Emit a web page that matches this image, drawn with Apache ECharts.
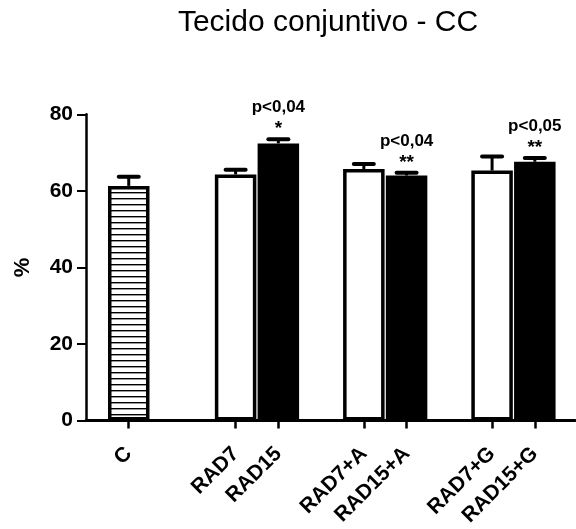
<!DOCTYPE html>
<html><head><meta charset="utf-8">
<script src="https://cdn.jsdelivr.net/npm/echarts@6/dist/echarts.min.js"></script>
<style>html,body{margin:0;padding:0;background:#fff}#c{width:576px;height:529px}</style>
</head><body><div id="c"></div>
<script>
// ---- data ----
const categories = ['C', 'RAD7', 'RAD15', 'RAD7+A', 'RAD15+A', 'RAD7+G', 'RAD15+G'];
const means      = [61.3, 64.3, 72.4, 65.7, 64.0, 65.3, 67.6];
const sems       = [2.4, 1.2, 1.1, 1.3, 0.7, 3.7, 1.0];
const pValues    = ['', '', 'p<0,04', '', 'p<0,04', '', 'p<0,05'];
const stars      = ['', '', '*', '', '**', '', '**'];
const yTicks     = [0, 20, 40, 60, 80];

// ---- layout (slot units: one bar = 2 slots) ----
const groups = [[0], [1, 2], [3, 4], [5, 6]];
const groupGaps = [3, 2, 2];
const pos = [];
(function () {
  let x = 0;
  groups.forEach((g, gi) => {
    g.forEach(i => { pos[i] = x; x += 2; });
    x += (groupGaps[gi] || 0);
  });
})();

const FONT = "'Liberation Sans', Arial, Helvetica, sans-serif";

function hatch() {
  const cv = document.createElement('canvas');
  cv.width = 8; cv.height = 6;
  const ctx = cv.getContext('2d');
  ctx.fillStyle = '#fff'; ctx.fillRect(0, 0, 8, 6);
  ctx.fillStyle = '#000'; ctx.fillRect(0, 0, 8, 1.4);
  return { image: cv, repeat: 'repeat' };
}
function fillFor(name) {
  if (name === 'C') return hatch();
  if (name.indexOf('RAD7') === 0) return '#fff';
  return '#000';
}

const chart = echarts.init(document.getElementById('c'), null, { renderer: 'canvas' });
chart.setOption({
  animation: false,
  backgroundColor: '#fff',
  title: {
    text: 'Tecido conjuntivo - CC',
    left: 328, top: 8, padding: 0, textAlign: 'center',
    textStyle: { fontFamily: FONT, fontSize: 30, fontWeight: 'normal', color: '#000' }
  },
  grid: { left: 86, right: 1, top: 114.3, bottom: 107.3, containLabel: false },
  xAxis: {
    type: 'value', min: -2, max: 20.88,
    splitLine: { show: false },
    axisLine: { show: true, onZero: false, lineStyle: { color: '#000', width: 3 } },
    axisTick: { show: true, customValues: pos, length: 8, lineStyle: { color: '#000', width: 2.5 } },
    axisLabel: {
      customValues: pos, rotate: 45, margin: 30,
      formatter: v => categories[pos.indexOf(Math.round(v))] || '',
      fontFamily: FONT, fontSize: 21, fontWeight: 'bold', color: '#000'
    }
  },
  yAxis: {
    type: 'value', min: yTicks[0], max: yTicks[yTicks.length - 1], interval: 20,
    name: '%', nameLocation: 'middle', nameRotate: 90, nameGap: 52,
    nameTextStyle: { fontFamily: FONT, fontSize: 22, fontWeight: 'bold', color: '#000' },
    splitLine: { show: false },
    axisLine: { show: true, onZero: false, lineStyle: { color: '#000', width: 2.5 } },
    axisTick: { show: true, length: 9, lineStyle: { color: '#000', width: 2 } },
    axisLabel: { margin: 13, fontFamily: FONT, fontSize: 21, fontWeight: 'bold', color: '#000' }
  },
  series: [
    {
      type: 'bar',
      barWidth: 41.5,
      data: categories.map((n, i) => ({
        value: [pos[i], means[i]],
        itemStyle: { color: fillFor(n), borderColor: '#000', borderWidth: 3.5 }
      })),
      z: 2
    },
    {
      type: 'custom',
      z: 3,
      clip: false,
      data: categories.map((n, i) => [pos[i], means[i], sems[i], i]),
      renderItem: function (params, api) {
        const i = api.value(3);
        const base = api.coord([api.value(0), api.value(1)]);
        const top = api.coord([api.value(0), api.value(1) + api.value(2)]);
        const children = [
          { type: 'line', shape: { x1: top[0], y1: base[1], x2: top[0], y2: top[1] },
            style: { stroke: '#000', lineWidth: 3 } },
          { type: 'line', shape: { x1: top[0] - 10, y1: top[1], x2: top[0] + 10, y2: top[1] },
            style: { stroke: '#000', lineWidth: 4, lineCap: 'round' } }
        ];
        if (pValues[i]) {
          children.push({ type: 'text', x: top[0], y: top[1] - 32,
            style: { text: pValues[i], font: 'bold 17px ' + FONT, fill: '#000', align: 'center', verticalAlign: 'middle' } });
        }
        if (stars[i]) {
          children.push({ type: 'text', x: top[0], y: top[1] - 10.5,
            style: { text: stars[i], font: 'bold 19px ' + FONT, fill: '#000', align: 'center', verticalAlign: 'middle' } });
        }
        return { type: 'group', children: children };
      }
    }
  ]
});
</script></body></html>
